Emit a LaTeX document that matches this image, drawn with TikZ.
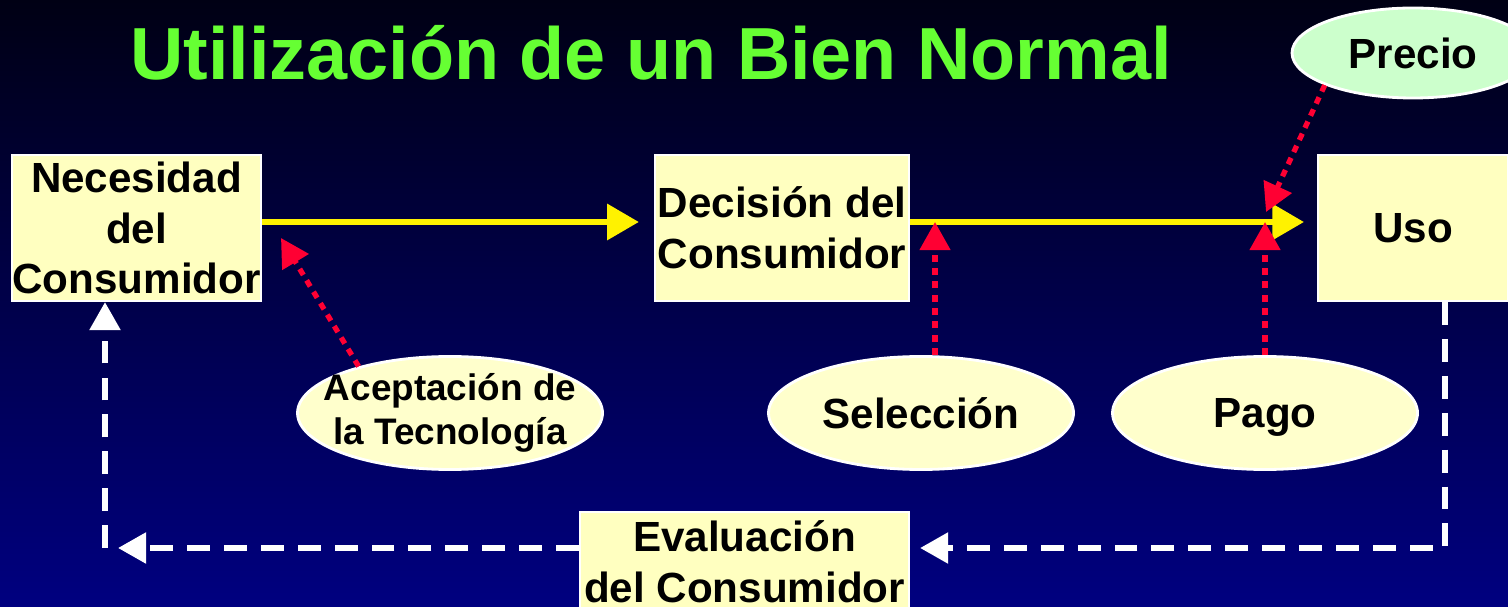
\documentclass[tikz,border=0pt]{standalone}
\usepackage{fontspec}
\setmainfont{Liberation Sans}
\usetikzlibrary{arrows.meta}
\usetikzlibrary{shapes.geometric}
\definecolor{titlegreen}{RGB}{102,255,51}
\definecolor{boxyellow}{RGB}{255,255,192}
\definecolor{ovalyellow}{RGB}{255,255,204}
\definecolor{ovalgreen}{RGB}{204,255,204}
\definecolor{linkred}{RGB}{255,0,51}
\definecolor{bgtop}{RGB}{0,0,20}
\definecolor{bgbottom}{RGB}{0,0,128}

\tikzset{
  concept/.style={draw=white, line width=0.6pt, fill=boxyellow, align=center, inner sep=0pt, font=\bfseries\fontsize{12}{14.4}\selectfont},
  factor/.style={ellipse, draw=white, line width=0.8pt, fill=ovalyellow, align=center, inner sep=0pt, text depth=0pt, minimum width=3.05cm, minimum height=1.13cm, font=\bfseries\fontsize{12}{14.4}\selectfont},
  flow/.style={yellow, line width=1.6pt, -{Triangle[length=9pt, width=10pt]}},
  influence/.style={linkred, line width=1.5pt, dash pattern=on 2pt off 1.8pt, -{Triangle[length=8pt, width=8.5pt]}},
  feedback/.style={white, line width=1.7pt, dash pattern=on 6.5pt off 4pt, -{Triangle[length=8pt, width=8.5pt]}},
}

\begin{document}
\begin{tikzpicture}
    \useasboundingbox (0, 0) rectangle (15.08, -6.07);
    \shade [top color=bgtop, bottom color=bgbottom] (0, 0) rectangle (15.08, -6.07);

    \node [anchor=base, text=titlegreen, font=\bfseries\fontsize{21}{25}\selectfont] (title) at (6.51, -0.80) {Utilización de un Bien Normal};

    % boxes
    \node [concept, minimum width=2.43cm, minimum height=1.46cm] (necesidad) at (1.365, -2.28) {Necesidad\\del\\Consumidor};
    \node [concept, minimum width=2.54cm, minimum height=1.46cm] (decision) at (7.82, -2.28) {Decisión del\\Consumidor};
    \node [concept, minimum width=1.90cm, minimum height=1.46cm] (uso) at (14.13, -2.28) {Uso};
    \node [concept, minimum width=3.29cm, minimum height=1.00cm] (evaluacion) at (7.445, -5.62) {Evaluación\\del Consumidor};

    % ellipses
    \node [factor, fill=ovalgreen, minimum width=2.42cm, minimum height=0.90cm] (precio) at (14.13, -0.53) {Precio};
    \node [factor, label={[align=center, font=\bfseries\fontsize{10.5}{12.4}\selectfont]center:Aceptación de\\la Tecnología}] (aceptacion) at (4.50, -4.13) {};
    \node [factor] (seleccion) at (9.21, -4.13) {Selección};
    \node [factor] (pago) at (12.65, -4.13) {Pago};

    \draw [flow, shorten >=4.3pt] ([yshift=0.06cm]necesidad.east) -- ([yshift=0.06cm]decision.west);
    \draw [flow, shorten >=3.7pt] ([yshift=0.06cm]decision.east) -- ([yshift=0.06cm]uso.west);

    \coordinate (hitA) at (2.81, -2.38);
    \coordinate (hitS) at (9.35, -2.22);
    \coordinate (hitP) at (12.66, -2.12);
    \draw [influence] (aceptacion.153) -- (hitA);
    \draw [influence] (seleccion.north -| hitS) -- (hitS);
    \draw [influence] (pago.north) -- (pago.north |- hitS);
    \draw [influence] (precio.200) -- (hitP);

    \coordinate (cornerL) at (1.05, -5.48);
    \coordinate (cornerR) at (14.45, -5.48);
    \draw [feedback] (evaluacion.west |- cornerL) -- ([xshift=0.13cm]cornerL);
    \draw [feedback] (cornerL) -- (cornerL |- necesidad.south);
    \draw [feedback] (uso.south -| cornerR) -- (cornerR) -- ([xshift=0.1cm]evaluacion.east |- cornerR);
\end{tikzpicture}
\end{document}
